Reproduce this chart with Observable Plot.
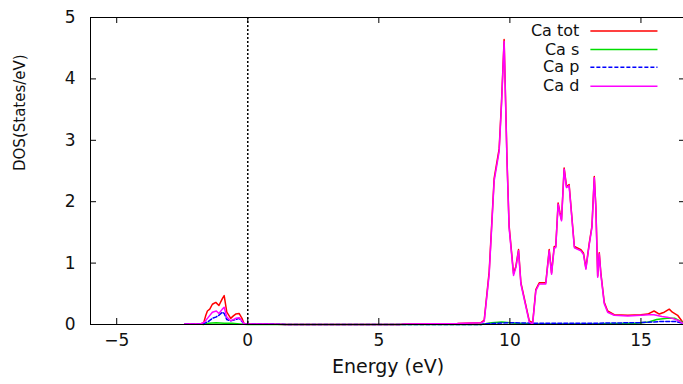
<!DOCTYPE html>
<html><head><meta charset="utf-8">
<script src="https://cdn.jsdelivr.net/npm/d3@7"></script>
<script src="https://cdn.jsdelivr.net/npm/@observablehq/plot@0.6"></script>
<style>
html,body{margin:0;padding:0;background:#fff;overflow:hidden;width:683px;height:384px}
</style></head><body><div id="chart"></div>
<script>
// [energy (eV), DOS (states/eV)]
const caTot = [[-2.4,0.01],[-1.8,0.01],[-1.68,0.03],[-1.6,0.15],[-1.54,0.22],[-1.45,0.25],[-1.35,0.33],[-1.22,0.36],[-1.1,0.31],[-0.97,0.42],[-0.9,0.47],[-0.8,0.2],[-0.65,0.1],[-0.55,0.14],[-0.46,0.17],[-0.33,0.18],[-0.22,0.1],[-0.14,0.01],[0.7,0.01],[1.5,0],[5.8,0],[6.0,0.01],[8.0,0.015],[8.9,0.03],[9.02,0.07],[9.21,0.86],[9.40,2.38],[9.59,2.86],[9.68,3.62],[9.78,4.64],[9.89,2.69],[9.97,1.61],[10.14,0.83],[10.23,0.95],[10.33,1.22],[10.42,0.68],[10.74,0.06],[10.87,0.03],[10.99,0.57],[11.12,0.68],[11.37,0.68],[11.50,1.22],[11.59,0.84],[11.69,1.27],[11.75,1.27],[11.84,1.98],[11.91,1.82],[11.97,1.71],[12.07,2.55],[12.16,2.25],[12.26,2.28],[12.46,1.27],[12.71,1.22],[12.81,1.16],[12.90,0.92],[13.03,1.33],[13.13,1.6],[13.22,2.41],[13.28,1.92],[13.35,0.79],[13.41,1.17],[13.47,0.84],[13.60,0.36],[13.73,0.22],[13.98,0.16],[14.5,0.15],[15.0,0.16],[15.26,0.17],[15.5,0.22],[15.7,0.17],[15.89,0.2],[16.08,0.25],[16.2,0.2],[16.4,0.15],[16.59,0.04]];
const caS = [[-1.7,0],[-1.5,0.02],[-1.2,0.03],[-0.9,0.02],[-0.6,0.02],[-0.3,0.01],[0,0],[8.9,0],[9.3,0.03],[9.7,0.04],[10.2,0.02],[11,0.01],[13,0.01],[14.8,0.02],[15.3,0.04],[15.6,0.08],[16.0,0.1],[16.3,0.1],[16.6,0.03]];
const caP = [[-2.4,0.01],[-1.7,0.01],[-1.5,0.05],[-1.35,0.1],[-1.22,0.12],[-1.1,0.15],[-0.97,0.2],[-0.9,0.18],[-0.8,0.08],[-0.65,0.06],[-0.46,0.08],[-0.33,0.1],[-0.22,0.05],[-0.14,0.01],[0.7,0.01],[1.5,0],[8.9,0],[9.0,0.01],[9.5,0.02],[10.0,0.03],[11,0.02],[13,0.02],[15,0.03],[15.8,0.05],[16.3,0.05],[16.6,0.02]];
const caD = [[-2.4,0.01],[-1.8,0.01],[-1.65,0.04],[-1.5,0.12],[-1.35,0.2],[-1.2,0.22],[-1.1,0.18],[-0.97,0.25],[-0.9,0.28],[-0.8,0.12],[-0.65,0.06],[-0.46,0.1],[-0.33,0.11],[-0.22,0.06],[-0.14,0.01],[0.7,0.01],[1.5,0],[5.8,0],[6.0,0.01],[8.0,0.015],[8.9,0.03],[9.02,0.05],[9.21,0.82],[9.40,2.34],[9.59,2.82],[9.68,3.58],[9.78,4.61],[9.89,2.66],[9.97,1.58],[10.14,0.80],[10.23,0.93],[10.33,1.20],[10.42,0.66],[10.74,0.04],[10.87,0.01],[10.99,0.55],[11.12,0.66],[11.37,0.66],[11.50,1.20],[11.59,0.82],[11.69,1.25],[11.75,1.25],[11.84,1.96],[11.91,1.80],[11.97,1.69],[12.07,2.53],[12.16,2.23],[12.26,2.26],[12.46,1.25],[12.71,1.20],[12.81,1.14],[12.90,0.90],[13.03,1.31],[13.13,1.58],[13.22,2.39],[13.28,1.90],[13.35,0.77],[13.41,1.15],[13.47,0.82],[13.60,0.34],[13.73,0.20],[13.98,0.15],[14.5,0.14],[15.0,0.15],[15.3,0.16],[15.5,0.16],[15.8,0.13],[16.0,0.12],[16.2,0.1],[16.4,0.07],[16.6,0.02]];

const seriesNames = ["Ca tot","Ca s","Ca p","Ca d"];
const seriesColors = ["#ff0000","#00dd00","#0000ff","#ff00ff"];
const seriesDash = [null,null,"4,2",null];
const seriesData = [caTot, caS, caP, caD];
const xTicks = [-5,0,5,10,15];
const yTicks = [0,1,2,3,4,5];
const xDomain = [-6,16.7];
const yDomain = [0,5];

// legend layout (in data units)
const legendTextX = 12.65, legendLineX1 = 13.09, legendLineX2 = 15.65;
const legendY = [4.78,4.48,4.19,3.88];

const W = 690, H = 384, mL = 90, mR = 5, mT = 17, mB = 60;
const frameW = W - mL - mR, frameH = H - mT - mB, tick = 6;

const lineMarks = seriesData.map((data, i) => Plot.line(data, {
  x: d => d[0], y: d => d[1], stroke: seriesColors[i], strokeWidth: 1.5,
  strokeDasharray: seriesDash[i]
}));

const legendRows = seriesNames.map((name, i) => ({name, y: legendY[i], color: seriesColors[i], dash: seriesDash[i]}));

const chart = Plot.plot({
  width: W, height: H,
  marginLeft: mL, marginRight: mR, marginTop: mT, marginBottom: mB,
  style: {fontFamily: "DejaVu Sans", fontSize: "17px", color: "#111", background: "#fff", maxWidth: "none"},
  x: {domain: xDomain, label: null},
  y: {domain: yDomain, label: null},
  marks: [
    Plot.ruleX([0], {stroke: "#000", strokeWidth: 1.5, strokeDasharray: "2,2"}),
    ...lineMarks,
    Plot.frame({stroke: "#000", strokeWidth: 1}),
    Plot.tickX(xTicks, {x: d => d, insetTop: frameH - tick, stroke: "#000"}),
    Plot.tickX(xTicks, {x: d => d, insetBottom: frameH - tick, stroke: "#000"}),
    Plot.tickY(yTicks, {y: d => d, insetRight: frameW - tick, stroke: "#000"}),
    Plot.tickY(yTicks, {y: d => d, insetLeft: frameW - tick, stroke: "#000"}),
    Plot.axisX({ticks: xTicks, tickSize: 0, tickPadding: 9, fontSize: 17, tickFormat: d3.format("d"), label: null}),
    Plot.axisY({ticks: yTicks, tickSize: 0, tickPadding: 15, fontSize: 17, tickFormat: d3.format("d"), label: null}),
    Plot.text(["Energy (eV)"], {frameAnchor: "bottom", dy: 48, fontSize: 19, fill: "#111", ariaLabel: "xlabel"}),
    Plot.text(["DOS(States/eV)"], {frameAnchor: "left", dx: -70, rotate: -90, fontSize: 15, fill: "#111"}),
    Plot.text(legendRows, {x: legendTextX, y: "y", text: "name", textAnchor: "end", fontSize: 16, fill: "#111", ariaLabel: "legend"}),
    ...legendRows.map(r => Plot.ruleY([r], {y: "y", x1: legendLineX1, x2: legendLineX2, stroke: r.color, strokeWidth: 1.5, strokeDasharray: r.dash}))
  ]
});
chart.style.maxWidth = "none";
chart.style.height = H + "px";
chart.style.width = W + "px";
chart.querySelectorAll('g[aria-label="legend"] text').forEach(t => t.setAttribute("letter-spacing", "1.5"));
chart.querySelectorAll('g[aria-label="xlabel"] text').forEach(t => t.setAttribute("letter-spacing", "1"));
document.getElementById("chart").appendChild(chart);
</script></body></html>
